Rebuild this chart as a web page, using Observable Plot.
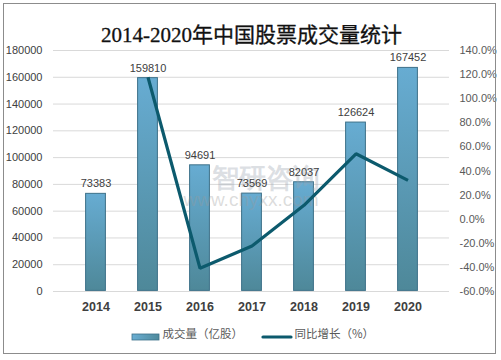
<!DOCTYPE html>
<html>
<head>
<meta charset="utf-8">
<script src="https://cdn.jsdelivr.net/npm/d3@7"></script>
<script src="https://cdn.jsdelivr.net/npm/@observablehq/plot@0.6"></script>
<style>
  html, body { margin: 0; padding: 0; background: #fff; }
  #chart { width: 501px; height: 360px; overflow: hidden; }
</style>
</head>
<body>
<div id="chart"></div>
<script>
const years = ["2014", "2015", "2016", "2017", "2018", "2019", "2020"];
const volume = [73383, 159810, 94691, 73569, 82037, 126624, 167452];
const growth = [null, 117.8, -40.7, -22.3, 11.5, 54.3, 32.2];
const leftTicks = [0, 20000, 40000, 60000, 80000, 100000, 120000, 140000, 160000, 180000];
const rightTicks = [-60, -40, -20, 0, 20, 40, 60, 80, 100, 120, 140];
const title = "2014-2020年中国股票成交量统计";
const legendBar = "成交量（亿股）";
const legendLine = "同比增长（%）";

// map percent scale onto the left (volume) scale: -60% ↔ 0, 140% ↔ 180000
const toLeft = p => (p + 60) / 200 * 180000;
const fromLeft = v => v / 900 - 60;

const barData = years.map((y, i) => ({year: y, value: volume[i]}));
const lineData = years.map((y, i) => ({year: y, g: growth[i]})).filter(d => d.g != null);

const font = "'Liberation Sans', Arial, sans-serif";

const chart = Plot.plot({
  width: 501,
  height: 360,
  marginLeft: 53,
  marginRight: 52,
  marginTop: 50,
  marginBottom: 69,
  style: {fontFamily: font, background: "#fff", overflow: "visible"},
  x: {type: "band", domain: years, padding: 0.6, align: 0.5},
  y: {domain: [0, 180000], range: [291, 50]},
  marks: [
    Plot.ruleY(leftTicks, {stroke: "#d9d9d9", strokeWidth: 1}),
    Plot.axisY({ticks: leftTicks, anchor: "left", tickSize: 0, tickPadding: 11, tickFormat: d => String(d), fontSize: 11, fill: "#404040", label: null}),
    Plot.axisY({ticks: rightTicks.map(toLeft), anchor: "right", tickSize: 0, tickPadding: 10, tickFormat: d => Math.round(fromLeft(d)).toFixed(1) + "%", fontSize: 11, fill: "#595959", label: null}),
    Plot.axisX({tickSize: 0, tickPadding: 11, fontSize: 12.5, fontWeight: "bold", fill: "#404040", label: null}),
    Plot.barY(barData, {x: "year", y: "value", fill: "url(#barGrad)", stroke: "#3d7189", strokeWidth: 1, inset: 0.6}),
    // watermark (faint, behind labels)
    Plot.text(["智研咨询"], {frameAnchor: "top-left", dx: 211 - 53, dy: 167 - 50, textAnchor: "start", fontSize: 27, fill: "#9aa3b0", fillOpacity: 0.35, fontWeight: "bold"}),
    Plot.text(["www.chyxx.com"], {frameAnchor: "top-left", dx: 183 - 53, dy: 192 - 50, textAnchor: "start", fontSize: 19, fill: "#9a9a9a", fillOpacity: 0.35, style: "letter-spacing:2.6px"}),
    Plot.text(barData, {x: "year", y: "value", text: d => String(d.value), lineAnchor: "bottom", dy: -6, fontSize: 11, fill: "#404040"}),
    Plot.line(lineData, {x: "year", y: d => toLeft(d.g), stroke: "#0c5a6d", strokeWidth: 3.2, strokeLinejoin: "miter", strokeLinecap: "butt"}),
    // title
    Plot.text([title], {frameAnchor: "top", dy: -23, fontSize: 21, fontWeight: "normal", fill: "#111", fontFamily: "'Liberation Serif', 'Noto Sans CJK SC', serif", stroke: "#111", strokeWidth: 0.3}),
    // legend texts
    Plot.text([legendBar], {frameAnchor: "bottom-left", dx: 162 - 53, dy: 337 - 291, textAnchor: "start", fontSize: 11.5, fill: "#595959", fontFamily: "'Noto Sans CJK SC', sans-serif"}),
    Plot.text([legendLine], {frameAnchor: "bottom-left", dx: 294 - 53, dy: 337 - 291, textAnchor: "start", fontSize: 11.5, fill: "#595959", fontFamily: "'Noto Sans CJK SC', sans-serif"})
  ]
});

const svg = d3.select(chart);
const defs = svg.insert("defs", ":first-child");
const g = defs.append("linearGradient").attr("id", "barGrad").attr("x1", 0).attr("y1", 0).attr("x2", 0).attr("y2", 1);
g.append("stop").attr("offset", "0%").attr("stop-color", "#67acd2");
g.append("stop").attr("offset", "100%").attr("stop-color", "#4e8899");
const lg = defs.append("linearGradient").attr("id", "legGrad").attr("x1", 0).attr("y1", 0).attr("x2", 1).attr("y2", 0);
lg.append("stop").attr("offset", "0%").attr("stop-color", "#6aaed3");
lg.append("stop").attr("offset", "100%").attr("stop-color", "#4f8a9c");

// legend swatches
svg.append("rect").attr("x", 132).attr("y", 334).attr("width", 27).attr("height", 6)
  .attr("fill", "url(#legGrad)").attr("stroke", "#3d7189").attr("stroke-width", 0.8);
svg.append("line").attr("x1", 263).attr("x2", 291).attr("y1", 337).attr("y2", 337)
  .attr("stroke", "#0c5a6d").attr("stroke-width", 3.2).attr("stroke-linecap", "round");
// outer frame
svg.append("rect").attr("x", 3.5).attr("y", 3.5).attr("width", 492).attr("height", 350)
  .attr("fill", "none").attr("stroke", "#8c8c8c").attr("stroke-width", 1);

document.getElementById("chart").appendChild(chart);
</script>
</body>
</html>
